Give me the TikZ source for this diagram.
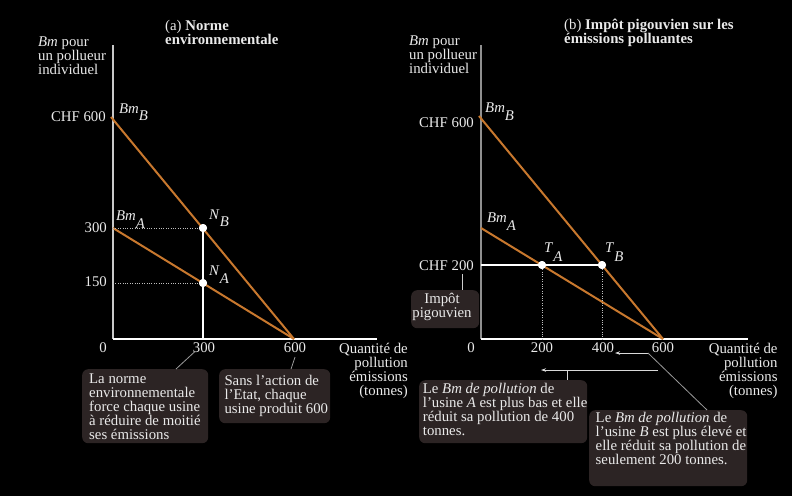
\documentclass[tikz,border=0pt]{standalone}
\usepackage{fontspec}
\setmainfont{Liberation Serif}
\usetikzlibrary{arrows.meta}
\definecolor{curve}{HTML}{C8782E}
\definecolor{txt}{HTML}{EAEAEA}
\definecolor{boxfill}{HTML}{2C2424}
\definecolor{axisg}{HTML}{C8C8C8}
\definecolor{axisdark}{HTML}{909090}
\definecolor{leader}{HTML}{9A9A9A}
\begin{document}
\begin{tikzpicture}[x=1pt,y=-1pt,
 every node/.style={font=\fontsize{14.8}{14}\selectfont, text=txt, inner sep=0pt},
 ticklbl/.style={anchor=base},
 ylbl/.style={anchor=base east},
 curvelbl/.style={anchor=base west},
 curveline/.style={draw=curve, line width=2pt},
 axisline/.style={draw=white, line width=1.3pt},
 dotline/.style={draw=white!75!black, line width=0.9pt, dash pattern=on 1pt off 1.4pt},
 dotpt/.style={circle, fill=white, minimum size=8pt, inner sep=0pt},
 calloutbox/.style={fill=boxfill, rounded corners=6pt, anchor=north west, minimum width=#1},
 calltext/.style={anchor=north west, align=left},
 leaderline/.style={draw=leader, line width=0.8pt},
 arrowline/.style={draw=white!85!black, line width=1pt, -{Stealth[length=5pt,width=3.5pt]}},
]
\fill[black] (0,0) rectangle (792,496);
\useasboundingbox (0,0) rectangle (792,496);

% ---------------- Panel (a) ----------------
\node[calltext] (titleA) at (165,20) {(a) \textbf{Norme}\\\textbf{environnementale}};
\node[calltext] (ylabA) at (38,36.8) {\textit{Bm} pour\\un pollueur\\individuel};
\node[anchor=north east, align=right] (xlabA) at (408,343) {Quantité de\\pollution\\émissions\\(tonnes)};

\coordinate (oA) at (113,339);
\coordinate (ytopA) at (113,45);
\coordinate (xendA) at (377,339);
\draw[draw=axisg, line width=1.3pt] (ytopA) -- (oA);
\draw[axisline] (oA) -- (xendA);

\coordinate (a600) at (111,117);
\coordinate (a300) at (113,228);
\coordinate (a150) at (113,283);
\coordinate (aq300) at (203,339);
\coordinate (aq600) at (294,339);

\draw[curveline] (a600) -- (aq600);
\draw[curveline] (a300) -- (aq600);

\node[dotpt] (NB) at (203,228) {};
\node[dotpt] (NA) at (203,283) {};
\draw[dotline] (a300) -- (NB);
\draw[dotline] (a150) -- (NA);
\draw[draw=white, line width=1.8pt] (NB) -- (aq300);
\node[dotpt] at (NB) {};
\node[dotpt] at (NA) {};

\node[ylbl] (lA600) at (106,121) {CHF 600};
\node[ylbl] (lA300) at (107,232) {300};
\node[ylbl] (lA150) at (107,286) {150};
\node[ticklbl] (tA0) at (103,352) {0};
\node[ticklbl] (tA300) at (204,352) {300};
\node[ticklbl] (tA600) at (295,352) {600};

\node[curvelbl] (BmBa) at (119,113) {\textit{Bm}\raisebox{-7.5pt}{\textit{B}}};
\node[curvelbl] (BmAa) at (116,220) {\textit{Bm}\raisebox{-8pt}{\textit{A}}};
\node[curvelbl] (NBl) at (209,219.3) {\textit{N}\raisebox{-7.5pt}{\textit{B}}};
\node[curvelbl] (NAl) at (209,275) {\textit{N}\raisebox{-8pt}{\textit{A}}};

\node[calloutbox=126pt, minimum height=74pt] (box1) at (82,369) {};
\node[calltext] (box1t) at (89,373.2) {La norme\\environnementale\\force chaque usine\\à réduire de moitié\\ses émissions};
\node[calloutbox=111pt, minimum height=54pt] (box2) at (219,369) {};
\node[calltext] (box2t) at (224.3,375) {Sans l’action de\\l’Etat, chaque\\usine produit 600};

\coordinate (c300) at (195,351.5);
\coordinate (b1top) at (176,369);
\coordinate (c600) at (295,357);
\coordinate (b2top) at (291,369);
\draw[leaderline] (c300) -- (b1top);
\draw[leaderline] (c600) -- (b2top);

% ---------------- Panel (b) ----------------
\node[calltext] (titleB) at (564,19.2) {(b) \textbf{Impôt pigouvien sur les}\\\textbf{émissions polluantes}};
\node[calltext] (ylabB) at (409,35.8) {\textit{Bm} pour\\un pollueur\\individuel};
\node[anchor=north east, align=right] (xlabB) at (777.7,343) {Quantité de\\pollution\\émissions\\(tonnes)};

\coordinate (oB) at (481,339);
\coordinate (ytopB) at (481,45);
\coordinate (xendB) at (748,339);
\draw[draw=axisdark, line width=1.3pt] (ytopB) -- (oB);
\draw[axisline] (oB) -- (xendB);

\coordinate (b600) at (479,116);
\coordinate (b300) at (481,228);
\coordinate (b200) at (481,265);
\coordinate (bq200) at (542,339);
\coordinate (bq400) at (602,339);
\coordinate (bq600) at (663,339);

\draw[curveline] (b600) -- (bq600);
\draw[curveline] (b300) -- (bq600);

\node[dotpt] (TA) at (542,265) {};
\node[dotpt] (TB) at (602,265) {};
\draw[draw=white, line width=1.8pt] (b200) -- (TB);
\draw[dotline] (TA) -- (bq200);
\draw[dotline] (TB) -- (bq400);
\node[dotpt] at (TA) {};
\node[dotpt] at (TB) {};

\node[ylbl] (lB600) at (474,127) {CHF 600};
\node[ylbl] (lB200) at (474,270) {CHF 200};
\node[ticklbl] (tB0) at (471,352) {0};
\node[ticklbl] (tB200) at (542,352) {200};
\node[ticklbl] (tB400) at (603,352) {400};
\node[ticklbl] (tB600) at (663,352) {600};

\node[curvelbl] (BmBb) at (485,112.7) {\textit{Bm}\raisebox{-7.5pt}{\textit{B}}};
\node[curvelbl] (BmAb) at (487,222.7) {\textit{Bm}\raisebox{-7.5pt}{\textit{A}}};
\node[curvelbl] (TAl) at (544,252.7) {\textit{T}\raisebox{-8.5pt}{\textit{A}}};
\node[curvelbl] (TBl) at (605,252.7) {\textit{T}\raisebox{-8.5pt}{\textit{B}}};

\node[calloutbox=68pt, minimum height=38pt] (boxI) at (411,290) {};
\node[anchor=north, align=center] (boxIt) at (442,293) {Impôt\\pigouvien};
\coordinate (c200) at (462,274);
\coordinate (bItop) at (462,290);
\draw[draw=white!80!black, line width=1pt] (c200) -- (bItop);

\node[calloutbox=168pt, minimum height=63pt] (boxA) at (419,380) {};
\node[calltext] (boxAt) at (422.7,383.3) {Le \textit{Bm de pollution} de\\l’usine \textit{A} est plus bas et elle\\réduit sa pollution de 400\\tonnes.};
\node[calloutbox=158pt, minimum height=76pt] (boxB) at (589,410) {};
\node[calltext] (boxBt) at (595.5,411.7) {Le \textit{Bm de pollution} de\\l’usine \textit{B} est plus élevé et\\elle réduit sa pollution de\\seulement 200 tonnes.};

\coordinate (ar1s) at (648,353);
\coordinate (ar1e) at (615,353);
\coordinate (bBtop) at (707,410);
\draw[arrowline] (ar1s) -- (ar1e);
\draw[leaderline] (ar1s) -- (bBtop);

\coordinate (ar2s) at (658,370);
\coordinate (ar2e) at (541,370);
\coordinate (ar2t) at (567,370);
\coordinate (bAtop) at (567,380);
\draw[arrowline] (ar2s) -- (ar2e);
\draw[draw=white!85!black, line width=1pt] (ar2t) -- (bAtop);
\end{tikzpicture}
\end{document}
